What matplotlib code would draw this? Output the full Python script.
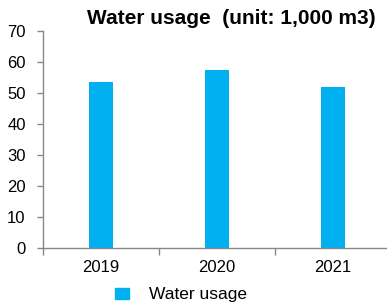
import matplotlib
matplotlib.use("Agg")
import matplotlib.pyplot as plt
from matplotlib.patches import Patch

categories = ["2019", "2020", "2021"]
values = [53.5, 57.4, 51.8]
series_name = "Water usage"
title = "Water usage  (unit: 1,000 m3)"
yticks = [0, 10, 20, 30, 40, 50, 60, 70]

plt.rcParams['font.family'] = ['Liberation Sans', 'DejaVu Sans']

fig = plt.figure(figsize=(3.87, 3.08), dpi=100)
ax = fig.add_axes([43/387, 1-248/308, 348/387, (248-31)/308])

x = list(range(len(categories)))
ax.bar(x, values, width=0.21, color="#00B0F0", zorder=2)
ax.set_xlim(-0.5, len(categories)-0.5)
ax.set_ylim(0, 70)
ax.set_yticks(yticks)
ax.tick_params(axis='y', labelsize=12, colors='#878787', labelcolor='black', length=4.5, width=1, pad=8)
ax.set_xticks(x)
ax.set_xticklabels(categories, fontsize=12)
ax.tick_params(axis='x', length=0, pad=9)
# category boundary ticks
ax.set_xticks([i-0.5 for i in range(len(categories)+1)], minor=True)
ax.tick_params(axis='x', which='minor', length=5, width=1, colors='#878787', direction='out')

for s in ['top', 'right']:
    ax.spines[s].set_visible(False)
for s in ['left', 'bottom']:
    ax.spines[s].set_color('#878787')
    ax.spines[s].set_linewidth(1)

fig.text(231/387, 1-18/308, title, fontsize=15, fontweight='bold', ha='center', va='center')

leg = fig.legend(handles=[Patch(color="#00B0F0", label=series_name)], loc='center',
                 bbox_to_anchor=(181/387, 1-295/308), frameon=False, fontsize=12.5,
                 handlelength=0.8, handleheight=0.6, handletextpad=1.2)

fig.savefig("out.png", dpi=100)
